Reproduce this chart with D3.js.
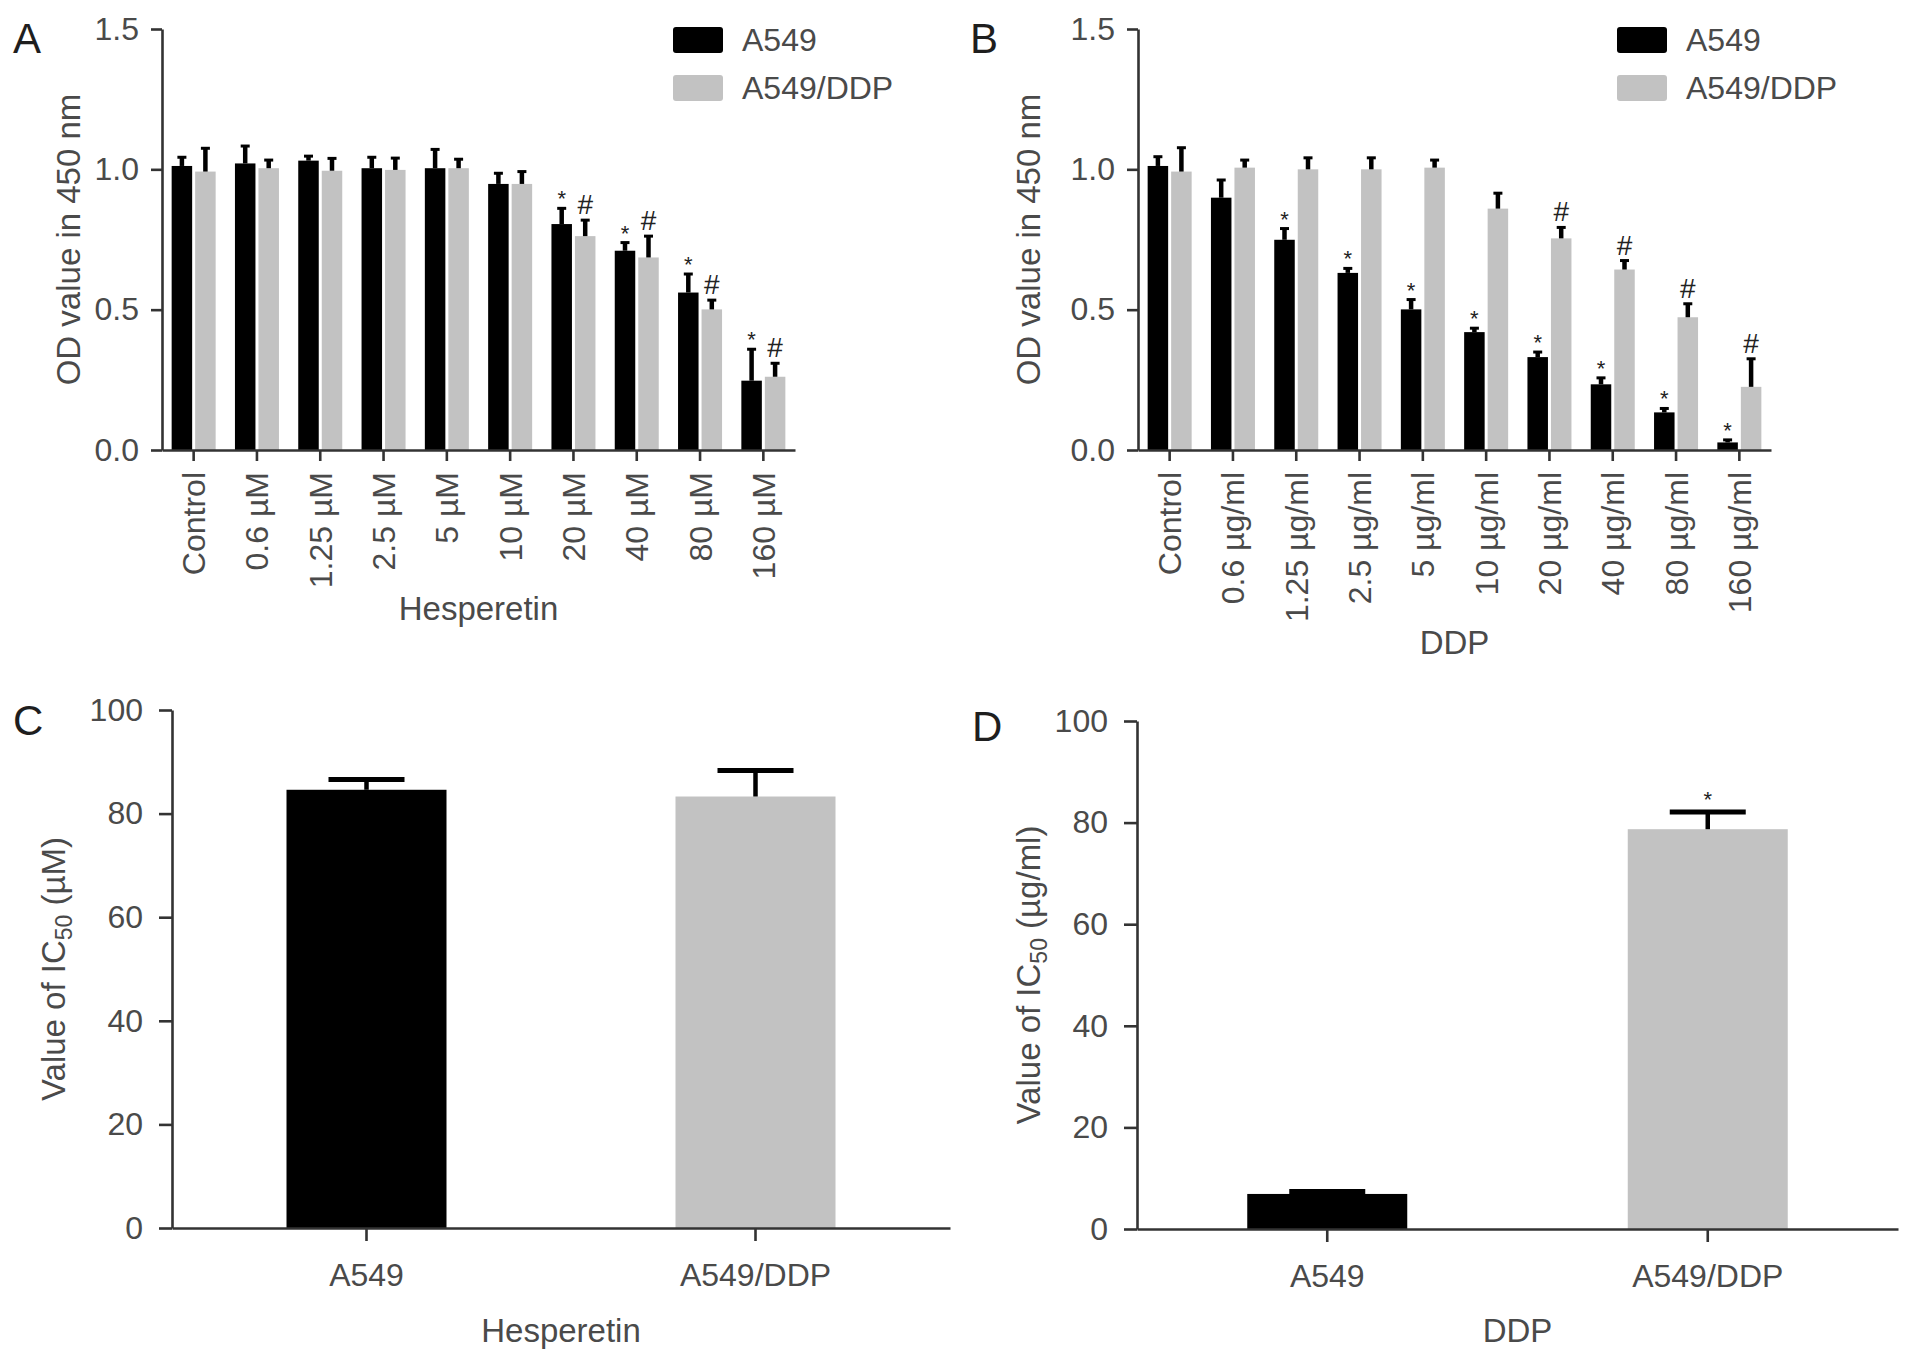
<!DOCTYPE html>
<html>
<head>
<meta charset="utf-8">
<script src="https://cdn.jsdelivr.net/npm/d3@7"></script>
<style>
  html, body { margin: 0; padding: 0; background: #fff; }
  svg text { font-family: "Liberation Sans", Arial, sans-serif; }
</style>
</head>
<body>
<svg id="chart" width="1913" height="1362"></svg>
<script>
// ---- data ----
const hespDoses = ["Control", "0.6 µM", "1.25 µM", "2.5 µM", "5 µM", "10 µM", "20 µM", "40 µM", "80 µM", "160 µM"];
const ddpDoses = ["Control", "0.6 µg/ml", "1.25 µg/ml", "2.5 µg/ml", "5 µg/ml", "10 µg/ml", "20 µg/ml", "40 µg/ml", "80 µg/ml", "160 µg/ml"];
const seriesNames = ["A549", "A549/DDP"];

// Panel A: hesperetin OD values
const hespA549 = [1.012, 1.021, 1.031, 1.004, 1.004, 0.948, 0.805, 0.710, 0.561, 0.247];
const hespA549Err = [0.031, 0.062, 0.016, 0.039, 0.067, 0.038, 0.056, 0.029, 0.066, 0.112];
const hespDDP = [0.992, 1.004, 0.995, 0.998, 1.004, 0.948, 0.762, 0.686, 0.501, 0.261];
const hespDDPErr = [0.083, 0.029, 0.044, 0.042, 0.032, 0.044, 0.057, 0.076, 0.033, 0.048];
const hespA549Sig = ["", "", "", "", "", "", "*", "*", "*", "*"];
const hespDDPSig = ["", "", "", "", "", "", "#", "#", "#", "#"];

// Panel B: DDP OD values
const ddpA549 = [1.012, 0.899, 0.749, 0.631, 0.501, 0.420, 0.331, 0.234, 0.134, 0.027];
const ddpA549Err = [0.033, 0.063, 0.040, 0.016, 0.035, 0.014, 0.018, 0.023, 0.014, 0.009];
const ddpDDP = [0.992, 1.006, 1.000, 1.000, 1.006, 0.860, 0.754, 0.643, 0.473, 0.225];
const ddpDDPErr = [0.085, 0.027, 0.041, 0.041, 0.027, 0.055, 0.039, 0.032, 0.048, 0.100];
const ddpA549Sig = ["", "", "*", "*", "*", "*", "*", "*", "*", "*"];
const ddpDDPSig = ["", "", "", "", "", "", "#", "#", "#", "#"];

// Panels C and D: IC50
const icCells = ["A549", "A549/DDP"];
const icHesp = [84.6, 83.3];
const icHespErr = [2.0, 5.0];
const icHespSig = ["", ""];
const icDDP = [6.9, 78.7];
const icDDPErr = [0.5, 3.4];
const icDDPSig = ["", "*"];

const odTicks = [0, 0.5, 1.0, 1.5];
const icTicks = [0, 20, 40, 60, 80, 100];

// ---- styling ----
const BLACK = "#000000";
const GRAY = "#c2c2c2";
const AXIS = "#333333";
const LABEL = "#4a4a4a";
const FS = 32;

const svg = d3.select("#chart");

function styleAxis(g) {
    g.select(".domain").attr("stroke", AXIS).attr("stroke-width", 2.6);
    g.selectAll(".tick line").attr("stroke", AXIS).attr("stroke-width", 2.6);
    g.selectAll(".tick text")
        .attr("fill", LABEL)
        .style("font-size", FS + "px")
        .style("font-family", "'Liberation Sans', Arial, sans-serif");
}

function panelLetter(txt, x, y) {
    svg.append("text")
        .attr("x", x).attr("y", y)
        .style("font-size", "42px")
        .attr("fill", "#1e1e1e")
        .text(txt);
}

// grouped OD bar chart (panels A and B)
function drawGrouped(p) {
    const x = d3.scaleBand().domain(p.cats).range([p.x0, p.x1]).padding(0);
    const y = d3.scaleLinear().domain([0, 1.5]).range([p.yBottom, p.yTop]);
    const g = svg.append("g");
    const bw = 20.5, gap = 1.5;

    const groups = [
        { vals: p.a549, err: p.a549Err, sig: p.a549Sig, color: BLACK, off: -gap - bw },
        { vals: p.ddp, err: p.ddpErr, sig: p.ddpSig, color: GRAY, off: gap }
    ];

    groups.forEach(s => {
        const rows = p.cats.map((c, i) => ({ c, v: s.vals[i], e: s.err[i], s: s.sig[i] }));
        const cx = d => x(d.c) + x.bandwidth() / 2 + s.off;

        g.selectAll(null).data(rows).enter().append("rect")
            .attr("x", cx)
            .attr("y", d => y(d.v))
            .attr("width", bw)
            .attr("height", d => y(0) - y(d.v))
            .attr("fill", s.color);

        // upper error bar
        g.selectAll(null).data(rows).enter().append("line")
            .attr("x1", d => cx(d) + bw / 2).attr("x2", d => cx(d) + bw / 2)
            .attr("y1", d => y(d.v)).attr("y2", d => y(d.v + d.e))
            .attr("stroke", "#000").attr("stroke-width", 4.5);
        g.selectAll(null).data(rows).enter().append("line")
            .attr("x1", d => cx(d) + bw / 2 - 4.5).attr("x2", d => cx(d) + bw / 2 + 4.5)
            .attr("y1", d => y(d.v + d.e)).attr("y2", d => y(d.v + d.e))
            .attr("stroke", "#000").attr("stroke-width", 3);

        // significance marks
        g.selectAll(null).data(rows.filter(d => d.s)).enter().append("text")
            .attr("x", d => cx(d) + bw / 2)
            .attr("y", d => y(d.v + d.e) - (d.s === "#" ? 6 : 2))
            .attr("text-anchor", "middle")
            .attr("fill", "#222")
            .style("font-size", d => d.s === "#" ? "28px" : "22px")
            .text(d => d.s);
    });

    // axes
    g.append("g")
        .attr("transform", `translate(${p.x0},0)`)
        .call(d3.axisLeft(y).tickValues(odTicks).tickFormat(d3.format(".1f")).tickSize(11).tickSizeOuter(0).tickPadding(12))
        .call(styleAxis);

    const xa = g.append("g")
        .attr("transform", `translate(0,${p.yBottom})`)
        .call(d3.axisBottom(x).tickSize(11).tickSizeOuter(0).tickPadding(10))
        .call(styleAxis);
    xa.selectAll(".tick text")
        .attr("transform", "rotate(-90)")
        .attr("text-anchor", "end")
        .attr("x", -22)
        .attr("y", 0)
        .attr("dy", "0.36em");

    // axis titles
    svg.append("text")
        .attr("transform", `translate(${p.yTitleX},${(p.yTop + p.yBottom) / 2}) rotate(-90)`)
        .attr("text-anchor", "middle")
        .attr("fill", LABEL)
        .style("font-size", "33px")
        .text("OD value in 450 nm");
    svg.append("text")
        .attr("x", (p.x0 + p.x1) / 2)
        .attr("y", p.xTitleY)
        .attr("text-anchor", "middle")
        .attr("fill", LABEL)
        .style("font-size", "33px")
        .text(p.xTitle);

    // legend
    const leg = svg.append("g").attr("transform", `translate(${p.legX},27)`);
    seriesNames.forEach((n, i) => {
        leg.append("rect")
            .attr("x", 0).attr("y", i * 48)
            .attr("width", 50).attr("height", 26)
            .attr("rx", 3)
            .attr("fill", i === 0 ? BLACK : GRAY);
        leg.append("text")
            .attr("x", 69).attr("y", i * 48 + 13)
            .attr("dy", "0.35em")
            .attr("fill", LABEL)
            .style("font-size", FS + "px")
            .text(n);
    });
}

// IC50 bar chart (panels C and D)
function drawIC(p) {
    const x = d3.scaleBand().domain(icCells).range([p.x0, p.x1]).padding(0);
    const y = d3.scaleLinear().domain([0, 100]).range([p.yBottom, p.yTop]);
    const g = svg.append("g");
    const bw = 160, cap = 76;
    const rows = icCells.map((c, i) => ({ c, v: p.vals[i], e: p.err[i], s: p.sig[i], i }));
    const cx = d => x(d.c) + x.bandwidth() / 2;

    g.selectAll(null).data(rows).enter().append("rect")
        .attr("x", d => cx(d) - bw / 2)
        .attr("y", d => y(d.v))
        .attr("width", bw)
        .attr("height", d => y(0) - y(d.v))
        .attr("fill", d => d.i === 0 ? BLACK : GRAY);

    g.selectAll(null).data(rows).enter().append("line")
        .attr("x1", cx).attr("x2", cx)
        .attr("y1", d => y(d.v)).attr("y2", d => y(d.v + d.e))
        .attr("stroke", "#000").attr("stroke-width", 4.5);
    g.selectAll(null).data(rows).enter().append("line")
        .attr("x1", d => cx(d) - cap / 2).attr("x2", d => cx(d) + cap / 2)
        .attr("y1", d => y(d.v + d.e)).attr("y2", d => y(d.v + d.e))
        .attr("stroke", "#000").attr("stroke-width", 5);

    g.selectAll(null).data(rows.filter(d => d.s)).enter().append("text")
        .attr("x", cx)
        .attr("y", d => y(d.v + d.e) - 5)
        .attr("text-anchor", "middle")
        .attr("fill", "#222")
        .style("font-size", "22px")
        .text(d => d.s);

    g.append("g")
        .attr("transform", `translate(${p.x0},0)`)
        .call(d3.axisLeft(y).tickValues(icTicks).tickSize(13).tickSizeOuter(0).tickPadding(16))
        .call(styleAxis);

    g.append("g")
        .attr("transform", `translate(0,${p.yBottom})`)
        .call(d3.axisBottom(x).tickSize(13).tickSizeOuter(0).tickPadding(22))
        .call(styleAxis);

    const yt = svg.append("text")
        .attr("transform", `translate(${p.yTitleX},${(p.yTop + p.yBottom) / 2}) rotate(-90)`)
        .attr("text-anchor", "middle")
        .attr("fill", LABEL)
        .style("font-size", "33px");
    yt.append("tspan").text("Value of IC");
    yt.append("tspan").attr("dy", 7).style("font-size", "23px").text("50");
    yt.append("tspan").attr("dy", -7).text(" " + p.unit);

    svg.append("text")
        .attr("x", (p.x0 + p.x1) / 2)
        .attr("y", p.xTitleY)
        .attr("text-anchor", "middle")
        .attr("fill", LABEL)
        .style("font-size", "33px")
        .text(p.xTitle);
}

drawGrouped({
    cats: hespDoses, a549: hespA549, a549Err: hespA549Err, a549Sig: hespA549Sig,
    ddp: hespDDP, ddpErr: hespDDPErr, ddpSig: hespDDPSig,
    x0: 162, x1: 795, yTop: 29, yBottom: 450,
    yTitleX: 80, xTitle: "Hesperetin", xTitleY: 620, legX: 673
});

drawGrouped({
    cats: ddpDoses, a549: ddpA549, a549Err: ddpA549Err, a549Sig: ddpA549Sig,
    ddp: ddpDDP, ddpErr: ddpDDPErr, ddpSig: ddpDDPSig,
    x0: 1138, x1: 1771, yTop: 29, yBottom: 450,
    yTitleX: 1040, xTitle: "DDP", xTitleY: 654, legX: 1617
});

drawIC({
    vals: icHesp, err: icHespErr, sig: icHespSig,
    x0: 172, x1: 950, yTop: 710, yBottom: 1228,
    yTitleX: 65, unit: "(µM)", xTitle: "Hesperetin", xTitleY: 1342
});

drawIC({
    vals: icDDP, err: icDDPErr, sig: icDDPSig,
    x0: 1137, x1: 1898, yTop: 721, yBottom: 1229,
    yTitleX: 1040, unit: "(µg/ml)", xTitle: "DDP", xTitleY: 1342
});

panelLetter("A", 13, 53);
panelLetter("B", 970, 53);
panelLetter("C", 13, 735);
panelLetter("D", 972, 741);
</script>
</body>
</html>
